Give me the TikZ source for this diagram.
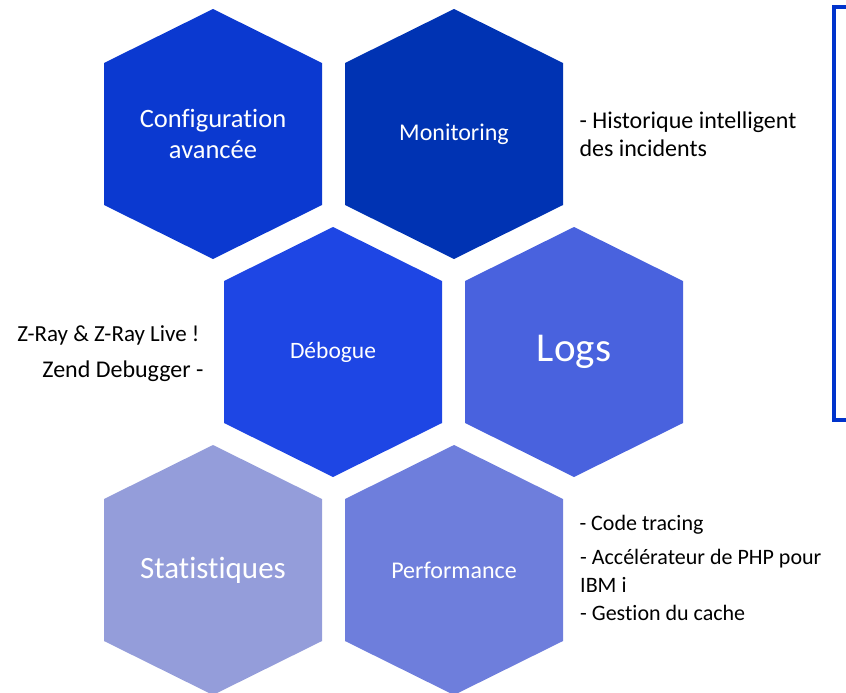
\documentclass[tikz,border=0pt]{standalone}
\usepackage{fontspec}
\setmainfont{Carlito}[Ligatures=NoCommon]
\usepackage{xcolor}
\usepackage{tikz}

\definecolor{hexconf}{RGB}{11,57,208}
\definecolor{hexmon}{RGB}{0,51,179}
\definecolor{hexdeb}{RGB}{30,70,228}
\definecolor{hexlogs}{RGB}{73,98,222}
\definecolor{hexstat}{RGB}{148,157,218}
\definecolor{hexperf}{RGB}{110,126,220}
\definecolor{frameblue}{RGB}{0,51,204}

\tikzset{
    hexlabel/.style={text=white, align=center},
    sidenote/.style={text=black, align=left, font=\fontsize{22}{28}\selectfont},
    bignote/.style={sidenote, font=\fontsize{24}{28}\selectfont}
}

\begin{document}
\begin{tikzpicture}[x=1pt, y=-1pt]
    \useasboundingbox (0,0) rectangle (846,693);
    % hexagons, pointy top
    \foreach \cx/\cy/\col in {213/134/hexconf, 454/134/hexmon, 333/352/hexdeb,
                              574/352/hexlogs, 213/570/hexstat, 454/570/hexperf}
        \fill[\col] (\cx,\cy) ++(0,-125) -- ++(109,54) -- ++(0,142) -- ++(-109,54)
            -- ++(-109,-54) -- ++(0,-142) -- cycle;
    \node[hexlabel, font=\fontsize{26.5}{31}\selectfont] (conf) at (213,134) {Configuration\\avancée};
    \node[hexlabel, font=\fontsize{24}{28}\selectfont] (mon) at (454,134) {Monitoring};
    \node[hexlabel, font=\fontsize{23.5}{28}\selectfont] (deb) at (333,352) {Débogue};
    \node[hexlabel, font=\fontsize{41}{48}\selectfont] (logs) at (574,352) {Logs};
    \node[hexlabel, font=\fontsize{31}{36}\selectfont] (stat) at (213,570) {Statistiques};
    \node[hexlabel, font=\fontsize{24}{28}\selectfont] (perf) at (454,570) {Performance};
    % notes
    \node[bignote, anchor=west] (histo) at (576,134) {- Historique intelligent\\des incidents};
    \node[sidenote, anchor=east, align=right, font=\fontsize{23}{28}\selectfont] (zray) at (203,335)
        {Z-Ray \& Z-Ray Live !};
    \node[bignote, anchor=east, align=right] (zend) at (207,371) {Zend Debugger -};
    \node[sidenote, anchor=west] (trace) at (576,525) {- Code tracing};
    \node[sidenote, anchor=north west, inner sep=0pt] (accel) at (580,549)
        {- Accélérateur de PHP pour\\IBM i\\- Gestion du cache};
    % frame on the right
    \draw[frameblue, line width=3.5pt] (860,7) -- (834,7) -- (834,420) -- (860,420);
\end{tikzpicture}
\end{document}
